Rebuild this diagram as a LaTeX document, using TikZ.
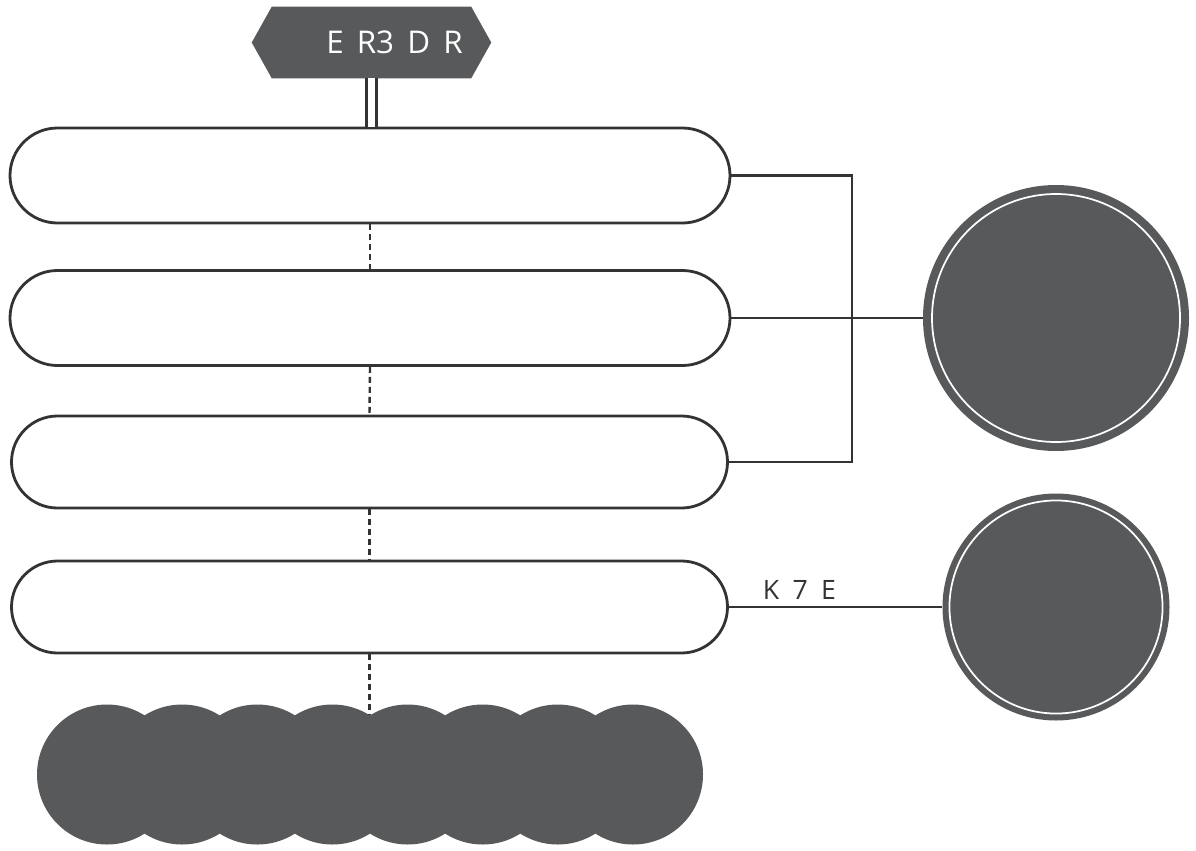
\documentclass[tikz,border=0pt]{standalone}
\usepackage{fontspec}
\setmainfont{Open Sans}
\usetikzlibrary{shapes.misc,calc}
\definecolor{darkfill}{HTML}{58595B}
\definecolor{linec}{HTML}{333333}
\begin{document}
\begin{tikzpicture}[x=0.75pt,y=-0.75pt,
  pill/.style={rounded rectangle, draw=linec, line width=2.1pt, fill=white, minimum width=540pt, minimum height=71.25pt, inner sep=0pt},
  pillb/.style={pill, minimum width=537pt, minimum height=69pt},
  link/.style={draw=linec, line width=2.1pt},
  dashlink/.style={draw=linec, line width=1.8pt, dash pattern=on 4.5pt off 3pt},
  disc/.style={circle, fill=darkfill, inner sep=0pt},
  ring/.style={draw=white, line width=1.3pt},
  puff/.style={circle, fill=darkfill, inner sep=0pt, minimum size=105pt},
  lbl/.style={text=linec, font=\fontsize{20}{24}\selectfont},
  hextext/.style={text=white, font=\fontsize{23.5}{28}\selectfont}
]
\useasboundingbox (0,0) rectangle (1196,850);

% header hexagon
\node[inner sep=0pt, minimum width=179.25pt, minimum height=53.25pt] (hex) at (371.5,42.5) {};
\fill[darkfill] (hex.west) -- ($(hex.north west)+(20,0)$) -- ($(hex.north east)+(-20,0)$)
  -- (hex.east) -- ($(hex.south east)+(-20,0)$) -- ($(hex.south west)+(20,0)$) -- cycle;
\node[hextext, anchor=base] (hextxt) at (394.5,53.3) {E\hspace{0.42em}R3\hspace{0.42em}D\hspace{0.42em}R};

% pills
\node[pill] (r1) at (370,175.5) {};
\node[pill] (r2) at (370,318) {};
\node[pillb] (r3) at (369.5,462) {};
\node[pillb] (r4) at (369.5,607) {};

% double line
\draw[draw=linec, double=white, line width=2pt, double distance=5.5pt]
  (hex.south) -- (hex.south |- r1.north);

% dashed links
\draw[dashlink] (r1.south) -- (r2.north);
\draw[dashlink] (r2.south) -- (r3.north);
\draw[dashlink] (r3.south) -- (r4.north);

% cloud
\foreach \i/\x in {1/107,2/182.1,3/257.3,4/332.4,5/407.6,6/482.7,7/557.8,8/633}
  \node[puff] (p\i) at (\x,774.5) {};
\coordinate (cloudtop) at (369.5,715);
\draw[dashlink] (r4.south) -- (cloudtop);

% discs
\node[disc, minimum size=199.5pt] (c1) at (1056,318) {};
\draw[ring] (c1.center) circle[radius=93pt];
\node[disc, minimum size=170.25pt] (c2) at (1056,607) {};
\draw[ring] (c2.center) circle[radius=79.9pt];

% connectors
\coordinate (bus) at (852,318);
\draw[link] (r1.east) -- (r1.east -| bus) -- (r3.east -| bus) -- (r3.east);
\draw[link] (r2.east) -- (c1.west);
\draw[link] (r4.east) -- (c2.west);
\node[lbl, anchor=base] (k7e) at (799.5,599) {K\hspace{0.5em}7\hspace{0.5em}E};
\end{tikzpicture}
\end{document}
